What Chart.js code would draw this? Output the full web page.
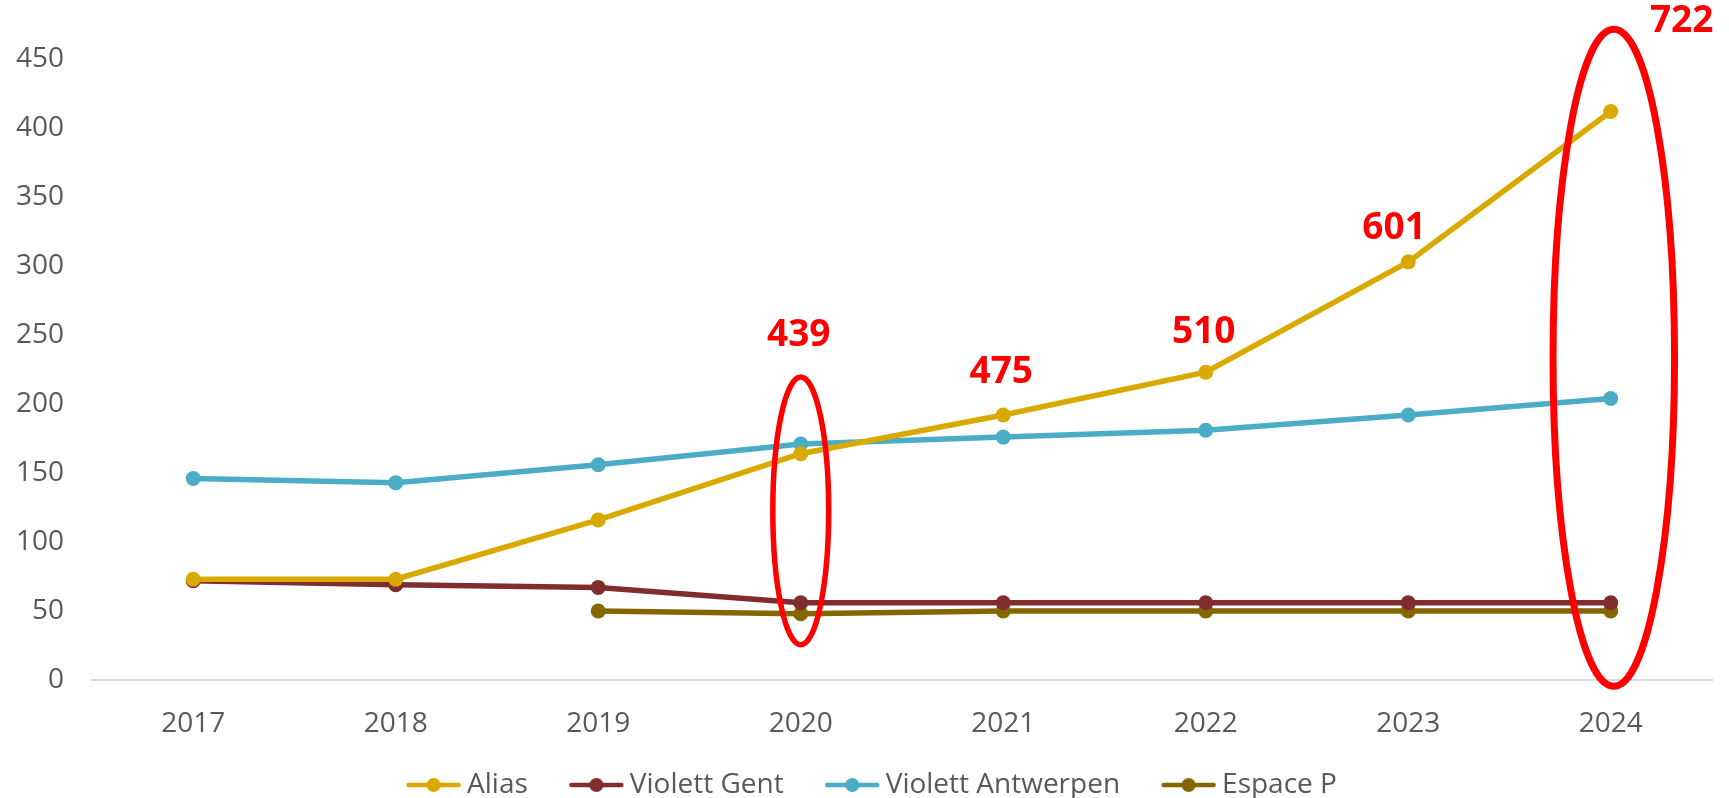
<!DOCTYPE html>
<html>
<head>
<meta charset="utf-8">
<script src="https://cdn.jsdelivr.net/npm/chart.js@4/dist/chart.umd.min.js"></script>
<style>
  html, body { margin: 0; padding: 0; background: #ffffff; }
  #wrap { width: 1729px; height: 798px; position: relative; }
</style>
</head>
<body>
<div id="wrap"><canvas id="c" width="1729" height="798"></canvas></div>
<script>
// ---- Data ----
const years = ['2017', '2018', '2019', '2020', '2021', '2022', '2023', '2024'];
const alias = [73, 73, 116, 164, 192, 223, 303, 412];
const violettGent = [72, 69, 67, 56, 56, 56, 56, 56];
const violettAntwerpen = [146, 143, 156, 171, 176, 181, 192, 204];
const espaceP = [null, null, 50, 48, 50, 50, 50, 50];
const seriesNames = ['Alias', 'Violett Gent', 'Violett Antwerpen', 'Espace P'];
const yTicks = [0, 50, 100, 150, 200, 250, 300, 350, 400, 450];
// red call-out labels
const calloutTexts = ['439', '475', '510', '601', '722'];

// ---- Styles / annotation placement ----
const colors = ['#DAA900', '#822D2D', '#4BACC6', '#846700'];
const calloutPlacement = [
  { cat: 3, dx: -0.01, v: 250 },
  { cat: 4, dx: -0.01, v: 223 },
  { cat: 5, dx: -0.01, v: 252 },
  { cat: 6, dx: -0.07, v: 327 },
  { cat: 7, dx: 0.35, v: 477 }
];
const ellipsePlacement = [
  { cat: 3, v: 122.6, rxCat: 0.138, rv: 97, lw: 5.5 },
  { cat: 7.015, v: 233.5, rxCat: 0.30, rv: 238, lw: 7 }
];

const FONT = "'Open Sans', 'DejaVu Sans', sans-serif";
const LEG_BOX = 78;
const LEG_IMG = 95;

function legendMarker(color) {
  const c = document.createElement('canvas');
  c.width = LEG_IMG; c.height = 18;
  const g = c.getContext('2d');
  const x0 = LEG_IMG - 56;
  g.strokeStyle = color; g.lineWidth = 4.5; g.lineCap = 'round';
  g.beginPath(); g.moveTo(x0 + 3, 9); g.lineTo(x0 + 53, 9); g.stroke();
  g.fillStyle = color;
  g.beginPath(); g.arc(x0 + 28, 9, 7, 0, Math.PI * 2); g.fill();
  return c;
}

const seriesData = [alias, violettGent, violettAntwerpen, espaceP];
const datasets = seriesData.map((d, i) => ({
  label: seriesNames[i],
  data: d,
  borderColor: colors[i],
  backgroundColor: colors[i],
  pointBackgroundColor: colors[i],
  pointBorderColor: colors[i],
  borderWidth: 5.5,
  pointRadius: 7.5,
  pointBorderWidth: 0,
  tension: 0,
  spanGaps: false,
  pointStyle: 'circle',
  legendImg: legendMarker(colors[i])
}));

const annotationPlugin = {
  id: 'redCallouts',
  afterDatasetsDraw(chart) {
    const ctx = chart.ctx;
    const xs = chart.scales.x, ys = chart.scales.y;
    const catW = xs.getPixelForValue(1) - xs.getPixelForValue(0);
    const x0 = xs.getPixelForValue(0);
    ctx.save();
    ctx.strokeStyle = '#FF0000';
    ellipsePlacement.forEach(e => {
      const cx = x0 + e.cat * catW;
      const cy = ys.getPixelForValue(e.v);
      const ry = ys.getPixelForValue(e.v - e.rv) - cy;
      ctx.lineWidth = e.lw;
      ctx.beginPath();
      ctx.ellipse(cx, cy, e.rxCat * catW, ry, 0, 0, Math.PI * 2);
      ctx.stroke();
    });
    ctx.fillStyle = '#FF0000';
    ctx.font = "bold 37px " + FONT;
    ctx.textAlign = 'center';
    ctx.textBaseline = 'middle';
    calloutTexts.forEach((t, i) => {
      const p = calloutPlacement[i];
      const x = xs.getPixelForValue(p.cat) + p.dx * catW;
      const y = ys.getPixelForValue(p.v);
      ctx.fillText(t, x, y);
    });
    ctx.restore();
  }
};

new Chart(document.getElementById('c'), {
  type: 'line',
  data: { labels: years, datasets },
  options: {
    responsive: false,
    animation: false,
    devicePixelRatio: 1,
    layout: { padding: { top: 59, right: 17, bottom: -11, left: 0 } },
    scales: {
      x: {
        offset: true,
        grid: { display: false, drawTicks: false },
        border: { display: true, color: '#D9D9D9', width: 2 },
        ticks: { color: '#595959', font: { family: FONT, size: 28 }, padding: 27 },
        afterFit(s) { s.height = 81; }
      },
      y: {
        min: 0, max: 450,
        afterBuildTicks(s) { s.ticks = yTicks.map(v => ({ value: v })); },
        grid: { display: false, drawTicks: false },
        border: { display: false },
        ticks: { color: '#595959', font: { family: FONT, size: 28 }, padding: 28 },
        afterFit(s) { s.width = 92; }
      }
    },
    plugins: {
      legend: {
        position: 'bottom',
        labels: {
          usePointStyle: true,
          pointStyleWidth: LEG_BOX,
          padding: 10,
          color: '#595959',
          font: { family: FONT, size: 28 },
          generateLabels(chart) {
            return chart.data.datasets.map((ds, i) => ({
              text: ds.label,
              fillStyle: ds.borderColor,
              strokeStyle: ds.borderColor,
              lineWidth: 0,
              pointStyle: ds.legendImg,
              fontColor: '#595959',
              hidden: false,
              datasetIndex: i
            }));
          }
        }
      },
      tooltip: { enabled: false }
    }
  },
  plugins: [annotationPlugin]
});
</script>
</body>
</html>
